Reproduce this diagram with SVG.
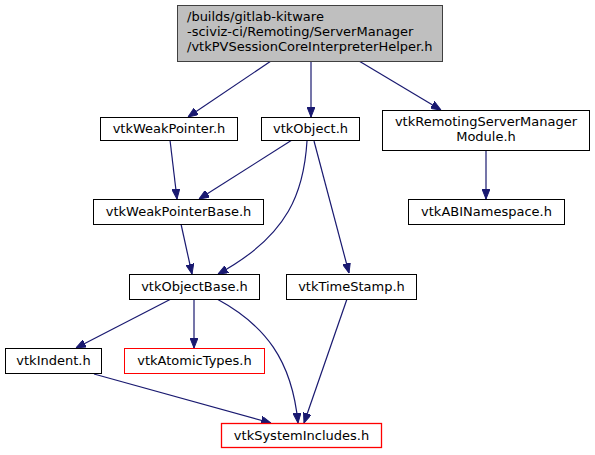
<svg xmlns="http://www.w3.org/2000/svg" width="595" height="455" viewBox="0 0 595 455">
<defs>
<marker id="arr" markerWidth="10" markerHeight="8" refX="10" refY="4" orient="auto" markerUnits="userSpaceOnUse">
<path d="M0,0 L10,4 L0,8 z" fill="#191970" stroke="#191970" stroke-width="1"/>
</marker>
<style>
.n rect{fill:#fff;stroke:#000;stroke-width:1}
.n rect.red{stroke:#ff0000}
.n.root rect{fill:#bfbfbf;stroke:#404040}
text{font-family:"DejaVu Sans",sans-serif;font-size:13px;fill:#000}
.c{text-anchor:middle}
#edges path{fill:none;stroke:#191970;stroke-width:1.2;marker-end:url(#arr)}
</style>
</defs>
<rect width="595" height="455" fill="#fff"/>
<g id="edges">
<path d="M271,61 L188,117"/>
<path d="M311,61 L311,117"/>
<path d="M359,61 L441,110"/>
<path d="M170,140 L177,199"/>
<path d="M292,140 L199,199"/>
<path d="M307,141 C304,190 290,235 218,274"/>
<path d="M314,141 L349,273"/>
<path d="M486,150 L486,199"/>
<path d="M181,224 L192,274"/>
<path d="M171,299 L76,348"/>
<path d="M194,299 L194,348"/>
<path d="M217,299 C265,325 292,360 298,423"/>
<path d="M94,374 L271,423"/>
<path d="M347,299 L304,423"/>
</g>
<g id="root" class="n root">
<rect x="177.5" y="5.5" width="265" height="56"/>
<text x="187" y="21">/builds/gitlab-kitware</text>
<text x="187" y="36">-sciviz-ci/Remoting/ServerManager</text>
<text x="187" y="51">/vtkPVSessionCoreInterpreterHelper.h</text>
</g>
<g id="vtkWeakPointer" class="n">
<rect x="100.5" y="117.5" width="137" height="23"/>
<text class="c" x="169" y="133">vtkWeakPointer.h</text>
</g>
<g id="vtkObject" class="n">
<rect x="261.5" y="117.5" width="98" height="23"/>
<text class="c" x="310.5" y="133">vtkObject.h</text>
</g>
<g id="vtkRemotingServerManagerModule" class="n">
<rect x="382.5" y="110.5" width="207" height="40"/>
<text class="c" x="486" y="126">vtkRemotingServerManager</text>
<text class="c" x="486" y="141">Module.h</text>
</g>
<g id="vtkWeakPointerBase" class="n">
<rect x="93.5" y="199.5" width="170" height="25"/>
<text class="c" x="178.5" y="216">vtkWeakPointerBase.h</text>
</g>
<g id="vtkABINamespace" class="n">
<rect x="408.5" y="199.5" width="156" height="25"/>
<text class="c" x="486.5" y="216">vtkABINamespace.h</text>
</g>
<g id="vtkObjectBase" class="n">
<rect x="129.5" y="274.5" width="130" height="25"/>
<text class="c" x="194.5" y="291">vtkObjectBase.h</text>
</g>
<g id="vtkTimeStamp" class="n">
<rect x="286.5" y="274.5" width="130" height="25"/>
<text class="c" x="351.5" y="291">vtkTimeStamp.h</text>
</g>
<g id="vtkIndent" class="n">
<rect x="5.5" y="348.5" width="96" height="25"/>
<text class="c" x="53.5" y="365">vtkIndent.h</text>
</g>
<g id="vtkAtomicTypes" class="n">
<rect class="red" x="124.5" y="348.5" width="140" height="25"/>
<text class="c" x="194.5" y="365">vtkAtomicTypes.h</text>
</g>
<g id="vtkSystemIncludes" class="n">
<rect class="red" x="221.5" y="423.5" width="160" height="24" style="stroke:#ff0000;stroke-width:1.3"/>
<text class="c" x="301.5" y="440">vtkSystemIncludes.h</text>
</g>
</svg>
